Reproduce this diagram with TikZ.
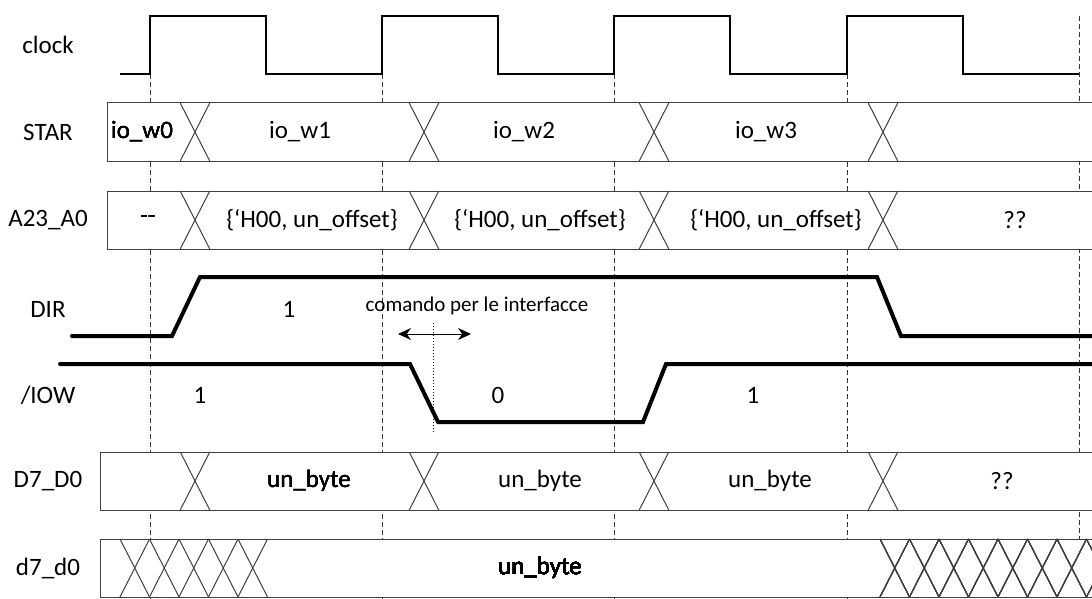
\documentclass[tikz,border=0pt]{standalone}
\usepackage{fontspec}
\setmainfont{Carlito}
\usetikzlibrary{arrows.meta}

\tikzset{
	wave/.style={line width=1.25pt},
	level/.style={line width=2pt, line cap=round},
	busline/.style={draw=black!75, line width=0.5pt},
	tick/.style={draw=black!80, line width=0.5pt, dash pattern=on 2.5pt off 1.5pt},
	lbl/.style={font=\fontsize{12.5}{15}\selectfont, inner sep=0pt},
	note/.style={font=\fontsize{10.5}{12}\selectfont, inner sep=0pt},
}

\begin{document}
\begin{tikzpicture}[x=0.5pt, y=-0.5pt]
		\useasboundingbox (0,0) rectangle (1092,599);
		\clip (0,0) rectangle (1092,599);

		% Define the macros.
		% \busBox   1st argument: top of the bus row, 2nd argument: left end of the box.
		% \busCross 1st argument: X of the crossing, 2nd argument: top of the bus row.
		\newcommand{\busBox}[2]{
			\filldraw[busline, fill=white] (#2,#1) rectangle (1110,#1+58);
		}
		\newcommand{\busCross}[2]{
			\draw[busline] (#1-14.75,#2) -- (#1+14.75,#2+58);
			\draw[busline] (#1+14.75,#2) -- (#1-14.75,#2+58);
		}

		% Clock edges
		\foreach \r in {150,382,614,847} \draw[tick] (\r,74) -- (\r,599);
		\draw[tick] (1079,16) -- (1079,599);

		% CLOCK
		\node[lbl] (clockLbl) at (48,45) {clock};
		\draw[wave] (120,74) \foreach \r in {150,382,614,847} { -- (\r,74) -- (\r,16) -- (\r+116,16) -- (\r+116,74) } -- (1079,74);

		% STAR
		\node[lbl] (starLbl) at (48,132) {STAR};
		\busBox{103}{107}
		\foreach \x in {195,424,654,883} \busCross{\x}{103}
		\node[lbl] (starW0) at (142,132) {io\_w0};
		\node[lbl] (starW1) at (300,132) {io\_w1};
		\node[lbl] (starW2) at (524,132) {io\_w2};
		\node[lbl] (starW3) at (766,132) {io\_w3};

		% A23_A0
		\node[lbl] (addrLbl) at (48,220) {A23\_A0};
		\busBox{191}{107}
		\foreach \x in {195,424,654,883} \busCross{\x}{191}
		\node[lbl] (addrNone) at (148,220) {-{}-};
		\node[lbl] (addrW1) at (312,220) {\{‘H00, un\_offset\}};
		\node[lbl] (addrW2) at (540,220) {\{‘H00, un\_offset\}};
		\node[lbl] (addrW3) at (776,220) {\{‘H00, un\_offset\}};
		\node[lbl] (addrEnd) at (1015,220) {??};

		% DIR
		\node[lbl] (dirLbl) at (48,309) {DIR};
		\draw[level] (72,336) -- (172,336) -- (200,277) -- (877,277) -- (901,336) -- (1100,336);
		\node[lbl] (dirOne) at (289,309) {1};

		% comando per le interfacce
		\node[note] (cmdNote) at (477,306) {comando per le interfacce};
		\coordinate (cmdL) at (398,334);
		\coordinate (cmdR) at (471,334);
		\draw[line width=0.5pt, {Stealth[length=6.5pt,width=6pt]}-{Stealth[length=6.5pt,width=6pt]}] (cmdL) -- (cmdR);
		\draw[line width=0.5pt, densely dotted] (433,323) -- (433,433);

		% /IOW
		\node[lbl] (iowLbl) at (48,395) {/IOW};
		\draw[level] (60,364) -- (410,364) -- (438,422) -- (643,422) -- (666,364) -- (1100,364);
		\node[lbl] (iowOne) at (200,395) {1};
		\node[lbl] (iowZero) at (498,395) {0};
		\node[lbl] (iowOneB) at (753,395) {1};

		% D7_D0
		\node[lbl] (dataLbl) at (48,481) {D7\_D0};
		\busBox{452}{100}
		\foreach \x in {195,424,654,883} \busCross{\x}{452}
		\node[lbl] (dataW1) at (309,481) {un\_byte};
		\node[lbl] (dataW2) at (540,481) {un\_byte};
		\node[lbl] (dataW3) at (770,481) {un\_byte};
		\node[lbl] (dataEnd) at (1002,481) {??};

		% d7_d0
		\node[lbl] (ldataLbl) at (48,568) {d7\_d0};
		\busBox{539}{100}
		\foreach \k in {0,...,4} \busCross{134.75+29.5*\k}{539}
		\foreach \k in {0,...,7} \busCross{894.75+29.5*\k}{539}
		\node[lbl] (ldataVal) at (540,568) {un\_byte};

	\end{tikzpicture}
\end{document}
